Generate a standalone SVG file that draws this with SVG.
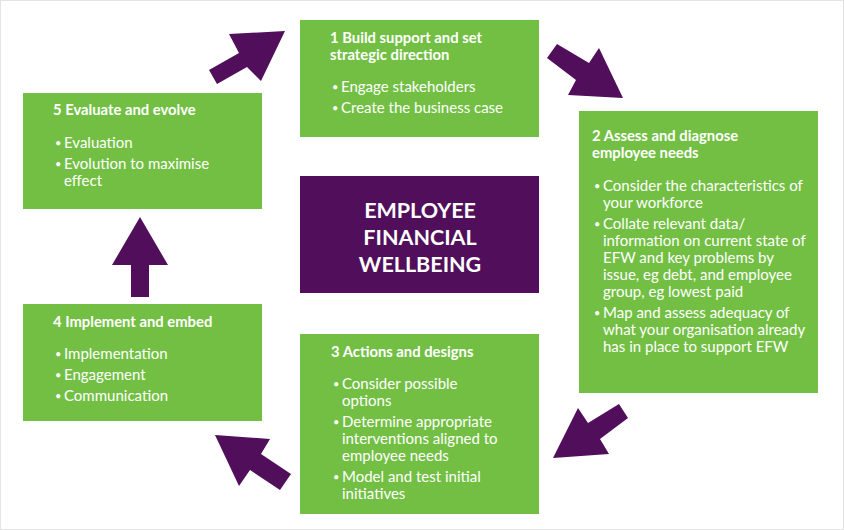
<svg xmlns="http://www.w3.org/2000/svg" width="844" height="530" viewBox="0 0 844 530">
<style>
.box{fill:#72bf44}
.core{fill:#510f5b}
.arr{fill:#510f5b}
text{font-family:Lato,"Liberation Sans",sans-serif;fill:#fff}
.t{font-weight:bold;font-size:14.8px}
.b{font-size:15px}
.d{font-size:11px}
.c{font-weight:bold;font-size:21.5px;text-anchor:middle}
</style>
<rect x="0.5" y="0.5" width="843" height="529" fill="#fff" stroke="#e4e4e4"/>
<g id="connectors">
<polygon class="arr" points="285,31 229,34 239,53 209,70 217,84 247,67 261,81"/>
<polygon class="arr" points="557,44 589,63 599,48 623,98 568,95 576,80 547,58"/>
<polygon class="arr" points="619,404 628,418 600,439 609,454 553,458 578,408 588,423"/>
<polygon class="arr" points="215,435 270,439 261,454 291,474 280,490 250,470 239,486"/>
<polygon class="arr" points="140,217 168,265 149,265 149,297 131,297 131,265 112,265"/>
</g>
<g id="center">
<rect class="core" x="300" y="176" width="239" height="117"/>
<text class="c" x="420" y="218">EMPLOYEE</text>
<text class="c" x="420" y="245">FINANCIAL</text>
<text class="c" x="420" y="272">WELLBEING</text>
</g>
<g id="step1">
<rect class="box" x="300" y="20" width="239" height="117"/>
<text class="t" x="330" y="43">1 Build support and set</text>
<text class="t" x="330" y="60">strategic direction</text>
<text class="d" x="332" y="91">•</text><text class="b" x="341" y="92">Engage stakeholders</text>
<text class="d" x="332" y="112">•</text><text class="b" x="341" y="113">Create the business case</text>
</g>
<g id="step2">
<rect class="box" x="579" y="111" width="239" height="282"/>
<text class="t" x="592" y="141">2 Assess and diagnose</text>
<text class="t" x="592" y="158">employee needs</text>
<text class="d" x="594" y="190">•</text><text class="b" x="603" y="191">Consider the characteristics of</text>
<text class="b" x="603" y="208">your workforce</text>
<text class="d" x="594" y="228">•</text><text class="b" x="603" y="229">Collate relevant data/</text>
<text class="b" x="603" y="246">information on current state of</text>
<text class="b" x="603" y="263">EFW and key problems by</text>
<text class="b" x="603" y="280">issue, eg debt, and employee</text>
<text class="b" x="603" y="297">group, eg lowest paid</text>
<text class="d" x="594" y="317">•</text><text class="b" x="603" y="318">Map and assess adequacy of</text>
<text class="b" x="603" y="335">what your organisation already</text>
<text class="b" x="603" y="352">has in place to support EFW</text>
</g>
<g id="step3">
<rect class="box" x="300" y="334" width="239" height="180"/>
<text class="t" x="331" y="357">3 Actions and designs</text>
<text class="d" x="333" y="388">•</text><text class="b" x="342" y="389">Consider possible</text>
<text class="b" x="342" y="406">options</text>
<text class="d" x="333" y="426">•</text><text class="b" x="342" y="427">Determine appropriate</text>
<text class="b" x="342" y="444">interventions aligned to</text>
<text class="b" x="342" y="461">employee needs</text>
<text class="d" x="333" y="481">•</text><text class="b" x="342" y="482">Model and test initial</text>
<text class="b" x="342" y="499">initiatives</text>
</g>
<g id="step4">
<rect class="box" x="23" y="304" width="239" height="117"/>
<text class="t" x="53" y="327">4 Implement and embed</text>
<text class="d" x="55" y="358">•</text><text class="b" x="64" y="359">Implementation</text>
<text class="d" x="55" y="379">•</text><text class="b" x="64" y="380">Engagement</text>
<text class="d" x="55" y="400">•</text><text class="b" x="64" y="401">Communication</text>
</g>
<g id="step5">
<rect class="box" x="23" y="93" width="239" height="116"/>
<text class="t" x="53" y="115">5 Evaluate and evolve</text>
<text class="d" x="55" y="147">•</text><text class="b" x="64" y="148">Evaluation</text>
<text class="d" x="55" y="168">•</text><text class="b" x="64" y="169">Evolution to maximise</text>
<text class="b" x="64" y="186">effect</text>
</g>
</svg>
